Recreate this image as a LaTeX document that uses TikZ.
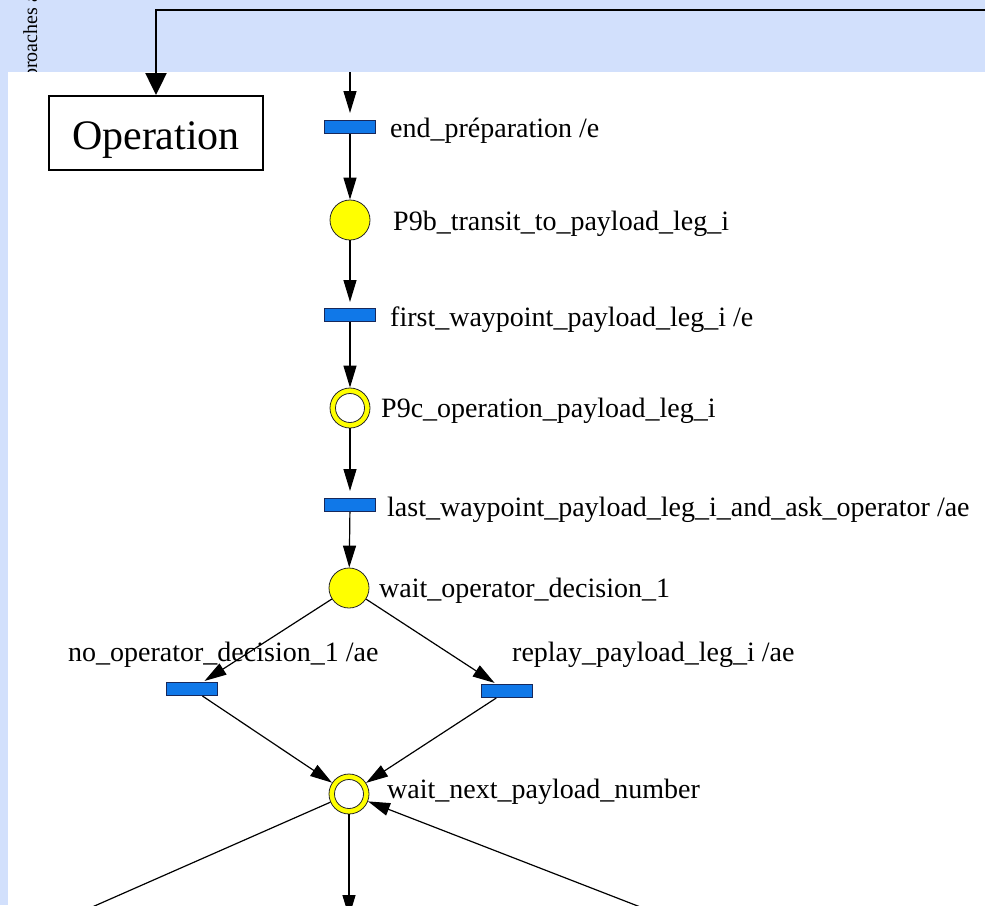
\documentclass[tikz,border=0pt]{standalone}
\usepackage{fontspec}
\setmainfont{Liberation Serif}
\usetikzlibrary{arrows.meta}
\definecolor{bandblue}{RGB}{210,224,252}
\definecolor{transblue}{RGB}{16,120,232}
\definecolor{transedge}{RGB}{24,40,90}
\definecolor{placeyellow}{RGB}{255,255,0}

\begin{document}
\begin{tikzpicture}[x=1pt,y=-1pt,
  place/.style={circle, draw=black!85, line width=0.8pt, fill=placeyellow,
    minimum size=40pt, inner sep=0},
  marked/.style={place, path picture={\draw[black!85, line width=0.8pt, fill=white]
    (path picture bounding box.center) circle (14.5pt);}},
  trans/.style={rectangle, draw=transedge, line width=1pt, fill=transblue,
    minimum width=51pt, minimum height=13pt, inner sep=0},
  lbl/.style={anchor=base west, inner sep=0, font=\fontsize{28}{30}\selectfont},
  arc/.style={line width=1.2pt, -{Triangle[length=22pt,width=13pt]}},
  plain/.style={line width=1.2pt}]
\useasboundingbox (0,0) rectangle (985,905);
\begin{scope}
\clip (0,0) rectangle (985,905);

% slide background and side title
\fill[bandblue] (0,0) rectangle (985,905);
\node[rotate=90, anchor=base west, inner sep=0, font=\fontsize{20}{22}\selectfont]
  (side) at (37,98) {approaches a};
\fill[white] (8,72) rectangle (985,905);

% operation block and its incoming link
\node[draw=black, line width=2pt, fill=white, inner sep=0, minimum width=214pt,
  text height=53pt, text depth=21pt, font=\fontsize{42}{46}\selectfont,
  anchor=north] (op) at (156,95) {Operation};
\coordinate (exit) at (995,10);
\draw[line width=2.5pt, -{Triangle[length=22pt,width=21pt]}] (exit) -| (op.north);

% Petri net: places and transitions
\node[trans] (T1) at (350,127) {};
\node[place] (P1) at (350,220) {};
\node[trans] (T2) at (350,315) {};
\node[marked] (P2) at (350,408) {};
\node[trans] (T3) at (350,505) {};
\node[place] (P3) at (349,588) {};
\node[trans] (T4) at (192,689) {};
\node[trans] (T5) at (507,691) {};
\node[marked] (P4) at (349,794) {};

% labels
\node[lbl] (L1) at (390,137) {end\_préparation /e};
\node[lbl] (L2) at (393,230) {P9b\_transit\_to\_payload\_leg\_i};
\node[lbl] (L3) at (390,326) {first\_waypoint\_payload\_leg\_i /e};
\node[lbl] (L4) at (381,417) {P9c\_operation\_payload\_leg\_i};
\node[lbl] (L5) at (387,516) {last\_waypoint\_payload\_leg\_i\_and\_ask\_operator /ae};
\node[lbl] (L6) at (379,597) {wait\_operator\_decision\_1};
\node[lbl] (L7) at (68,661) {no\_operator\_decision\_1 /ae};
\node[lbl] (L8) at (512,661) {replay\_payload\_leg\_i /ae};
\node[lbl] (L9) at (387,798) {wait\_next\_payload\_number};

% arcs
\coordinate (feed) at (350,72);
\draw[arc, shorten >=7pt] (feed) -- (T1);
\draw[arc] (T1) -- (P1);
\draw[arc, shorten >=6pt] (P1) -- (T2);
\draw[arc] (T2) -- (P2);
\draw[arc, shorten >=7pt] (P2) -- (T3);
\draw[arc] (T3) -- (P3);
\draw[arc, shorten >=2pt] (P3) -- (T4);
\draw[arc, shorten >=2pt] (P3) -- (T5);
\draw[arc] (T4) -- (P4);
\draw[arc] (T5) -- (P4);
\coordinate (down) at (349,917);
\coordinate (sw) at (74,915);
\coordinate (se) at (661,915);
\draw[arc] (P4) -- (down);
\draw[plain] (P4) -- (sw);
\draw[arc] (se) -- (P4);
\end{scope}
\end{tikzpicture}
\end{document}
